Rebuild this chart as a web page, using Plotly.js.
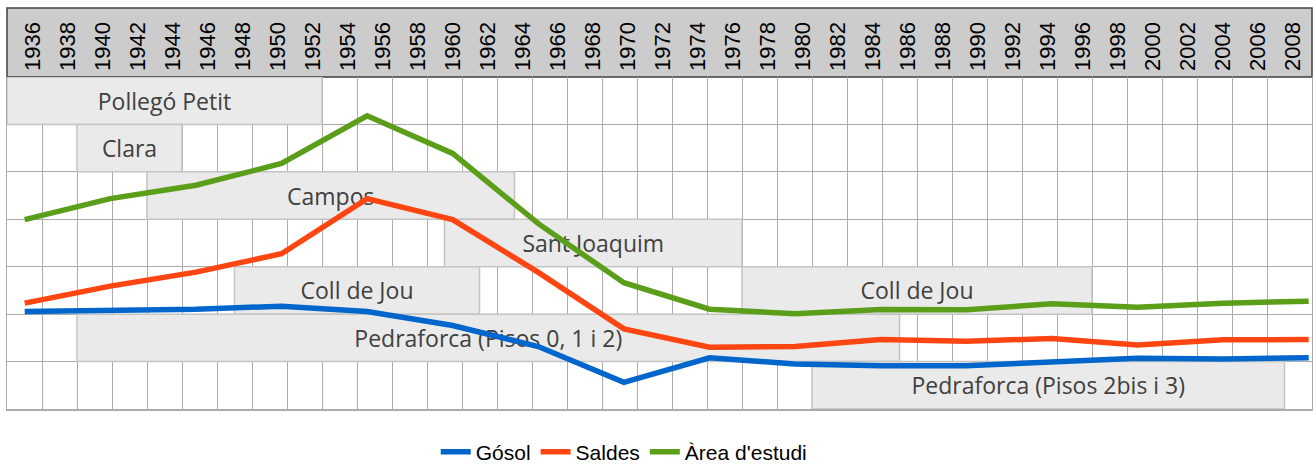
<!DOCTYPE html>
<html>
<head>
<meta charset="utf-8">
<script src="https://cdn.plot.ly/plotly-3.0.1.min.js"></script>
<style>html,body{margin:0;padding:0;background:#fff;}</style>
</head>
<body>
<div id="chart" style="width:1313px;height:464px;"></div>
<script>
// Year labels of the top header (one column = two years)
const yearLabels = [1936,1938,1940,1942,1944,1946,1948,1950,1952,1954,1956,1958,1960,1962,1964,1966,1968,1970,1972,1974,1976,1978,1980,1982,1984,1986,1988,1990,1992,1994,1996,1998,2000,2002,2004,2006,2008];
// Column boundaries (vertical grid)
const columnEdges = [1935,1937,1939,1941,1943,1945,1947,1949,1951,1953,1955,1957,1959,1961,1963,1965,1967,1969,1971,1973,1975,1977,1979,1981,1983,1985,1987,1989,1991,1993,1995,1997,1999,2001,2003,2005,2007];
// Row boundaries (horizontal grid)
const rowEdges = [0.5,1.5,2.5,3.5,4.5,5.5,6.5,7.5];

// Periods of the mines (Gantt bars)
const periodNames = ["Pollegó Petit","Clara","Campos","Sant Joaquim","Coll de Jou","Coll de Jou","Pedraforca (Pisos 0, 1 i 2)","Pedraforca (Pisos 2bis i 3)"];
const periodStart = [1935,1939,1943,1960,1948,1977,1939,1981];
const periodEnd   = [1953,1945,1964,1977,1962,1997,1986,2008];
const periodRow   = [1,2,3,4,5,5,6,7];

// Population series (16 evenly spaced samples)
const samples = [1,2,3,4,5,6,7,8,9,10,11,12,13,14,15,16];
const gosol  = [1028,1038,1052,1084,1028,880,658,281,539,475,457,457,492,535,528,539];
const saldes = [1116,1295,1443,1637,2218,1997,1440,845,651,658,732,714,743,676,729,732];
const area   = [1997,2218,2359,2588,3091,2694,1954,1331,1052,1004,1049,1046,1109,1073,1116,1137];

const durations = periodEnd.map((e,i)=>e-periodStart[i]);

const traces = [
  {
    type:'bar', orientation:'h',
    y: periodRow, base: periodStart, x: durations, width: 1,
    xaxis:'x', yaxis:'y',
    marker:{color:'#EAEAEA', line:{color:'#C4C4C4', width:1.5}},
    text: periodNames, textposition:'inside', insidetextanchor:'middle',
    constraintext:'none',
    textfont:{family:'"Open Sans", sans-serif', size:23, color:'#404040'},
    hoverinfo:'skip', showlegend:false
  },
  {type:'scatter', mode:'lines', name:'Gósol', x:samples, y:gosol, xaxis:'x2', yaxis:'y2',
   line:{color:'#0066CC', width:5.5}},
  {type:'scatter', mode:'lines', name:'Saldes', x:samples, y:saldes, xaxis:'x2', yaxis:'y2',
   line:{color:'#FF4612', width:5.5}},
  {type:'scatter', mode:'lines', name:"Àrea d'estudi", x:samples, y:area, xaxis:'x2', yaxis:'y2',
   line:{color:'#5A9E1A', width:5.5}}
];

const pxPerSample = 85.6, plotW = 1305;
const layout = {
  width:1313, height:464,
  margin:{l:7, r:1, t:77, b:55, pad:0, autoexpand:false},
  paper_bgcolor:'#ffffff', plot_bgcolor:'#ffffff',
  bargap:0,
  xaxis:{
    type:'linear', range:[1935, 1935 + plotW/17.5], side:'top',
    tickmode:'array', tickvals: yearLabels, ticktext: yearLabels.map(String),
    tickangle:-90, ticks:'', showgrid:false, zeroline:false, showline:false,
    tickfont:{family:'"Liberation Sans", Arial, sans-serif', size:22, color:'#000'},
    ticklabelstandoff:5, ticklabelshift:8, automargin:false,
    minor:{tickmode:'array', tickvals: columnEdges, showgrid:true, gridcolor:'#ABABAB', gridwidth:1, ticks:''},
    fixedrange:true
  },
  yaxis:{
    range:[7.5,0.5], tickmode:'array', tickvals: rowEdges, showticklabels:false, ticks:'',
    showgrid:true, gridcolor:'#ABABAB', gridwidth:1, zeroline:false, automargin:false,
    showline:true, mirror:true, linecolor:'#ABABAB', linewidth:1.5, fixedrange:true
  },
  xaxis2:{
    overlaying:'x', side:'bottom',
    range:[1 - (25-7.3)/pxPerSample, 1 - (25-7.3)/pxPerSample + plotW/pxPerSample],
    showgrid:false, zeroline:false, showticklabels:false, ticks:'', automargin:false,
    showline:true, linecolor:'#ABABAB', linewidth:1.5, fixedrange:true
  },
  yaxis2:{overlaying:'y', range:[0,3500], visible:false, fixedrange:true},
  shapes:[
    {type:'rect', xref:'paper', yref:'paper', x0:0, x1:1, y0:1, y1:1 + 69/332,
     fillcolor:'#CCCCCC', line:{color:'#3F3F3F', width:1.5}, layer:'below'}
  ],
  showlegend:true,
  legend:{orientation:'h', x:0.4726, xanchor:'center', yref:'container', y:(464-452)/464, yanchor:'middle',
    font:{family:'"Liberation Sans", Arial, sans-serif', size:21, color:'#000'},
    bgcolor:'rgba(0,0,0,0)'}
};

Plotly.newPlot('chart', traces, layout, {displayModeBar:false, staticPlot:true});
</script>
</body>
</html>
